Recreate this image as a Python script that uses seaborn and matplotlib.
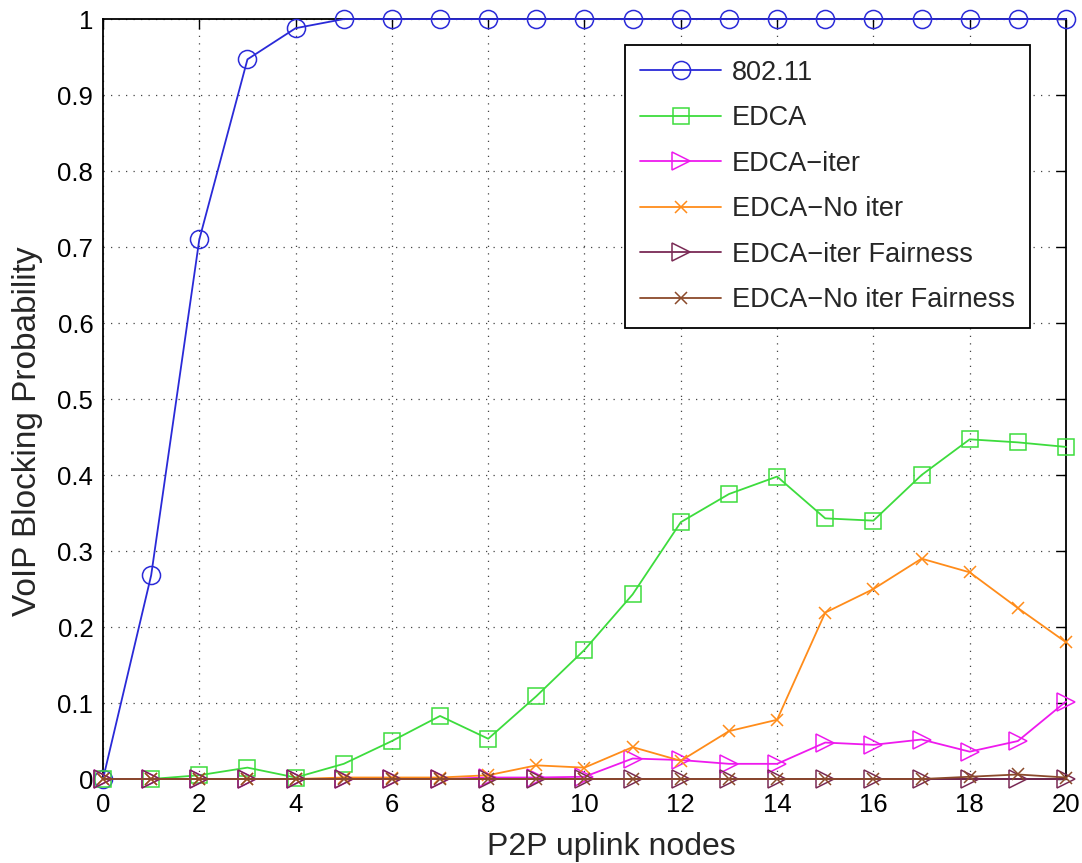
import seaborn as sns
import pandas as pd
import matplotlib.pyplot as plt

# P2P uplink nodes
nodes = list(range(21))

# VoIP blocking probability per scheme
p80211 = [0, 0.268, 0.71, 0.947, 0.988, 1, 1, 1, 1, 1, 1, 1, 1, 1, 1, 1, 1, 1, 1, 1, 1]
edca = [0, 0, 0.005, 0.015, 0.002, 0.02, 0.05, 0.083, 0.053, 0.109, 0.17,
        0.243, 0.338, 0.375, 0.398, 0.343, 0.34, 0.4, 0.447, 0.443, 0.437]
edca_iter = [0, 0, 0, 0, 0, 0, 0, 0, 0.002, 0.002, 0.003,
             0.027, 0.025, 0.02, 0.02, 0.048, 0.045, 0.052, 0.036, 0.05, 0.102]
edca_noiter = [0, 0, 0, 0, 0, 0.002, 0.002, 0.002, 0.005, 0.018, 0.015,
               0.042, 0.024, 0.063, 0.078, 0.219, 0.25, 0.29, 0.272, 0.225, 0.18]
edca_iter_fair = [0] * 21
edca_noiter_fair = [0, 0, 0, 0, 0, 0, 0, 0, 0, 0, 0,
                    0, 0, 0, 0, 0, 0, 0, 0.003, 0.006, 0.002]

labels = ['802.11', 'EDCA', 'EDCA\u2212iter', 'EDCA\u2212No iter',
          'EDCA\u2212iter Fairness', 'EDCA\u2212No iter Fairness']
series = [p80211, edca, edca_iter, edca_noiter, edca_iter_fair, edca_noiter_fair]
colors = ['#2a2ad8', '#3ddc3d', '#ee1aee', '#ff8c1a', '#7a2a55', '#8b4a2b']
markers = ['o', 's', '>', 'x', '>', 'x']
msizes = [13, 11.5, 13, 9, 13, 9]

sns.set_style('white')
plt.rcParams['font.family'] = ['Liberation Sans', 'DejaVu Sans']

fig = plt.figure(figsize=(10.82, 8.63), dpi=100)
ax = fig.add_axes([0.0952, 0.0973, 0.890, 0.8806])

for lab, vals, c, m, ms in zip(labels, series, colors, markers, msizes):
    df = pd.DataFrame({'x': nodes, 'y': vals})
    sns.lineplot(data=df, x='x', y='y', ax=ax, color=c, marker=m, markersize=ms,
                 markerfacecolor='none', markeredgecolor=c, markeredgewidth=1.1,
                 linewidth=1.3, label=lab, clip_on=False, zorder=3)

ax.set_xlim(0, 20)
ax.set_ylim(0, 1)
ax.set_xticks(range(0, 21, 2))
ax.set_yticks([i / 10 for i in range(11)])
ax.set_yticklabels(['0'] + ['0.%d' % i for i in range(1, 10)] + ['1'])
ax.tick_params(direction='in', length=7, labelsize=18.5, top=True, right=True,
               width=1, colors='black')
ax.tick_params(axis='y', pad=7)
ax.tick_params(axis='x', pad=10)
ax.grid(True, linestyle=(0, (1, 5)), color='#444444', linewidth=0.9)
for s in ax.spines.values():
    s.set_visible(True)
    s.set_color('black')
    s.set_linewidth(1.3)

ax.set_xlabel('P2P uplink nodes', fontsize=23)
ax.set_ylabel('VoIP Blocking Probability', fontsize=24)
ax.xaxis.set_label_coords(0.5275, -0.07)
ax.yaxis.set_label_coords(-0.062, 0.458)

leg = ax.legend(loc='upper right', bbox_to_anchor=(0.9626, 0.9658), fontsize=19.5,
                frameon=True, fancybox=False, edgecolor='black', framealpha=1,
                handlelength=3.0, handletextpad=0.4, labelspacing=0.72,
                borderpad=0.55, borderaxespad=0)
leg.get_frame().set_linewidth(1.3)

fig.savefig('out.png', dpi=100)
